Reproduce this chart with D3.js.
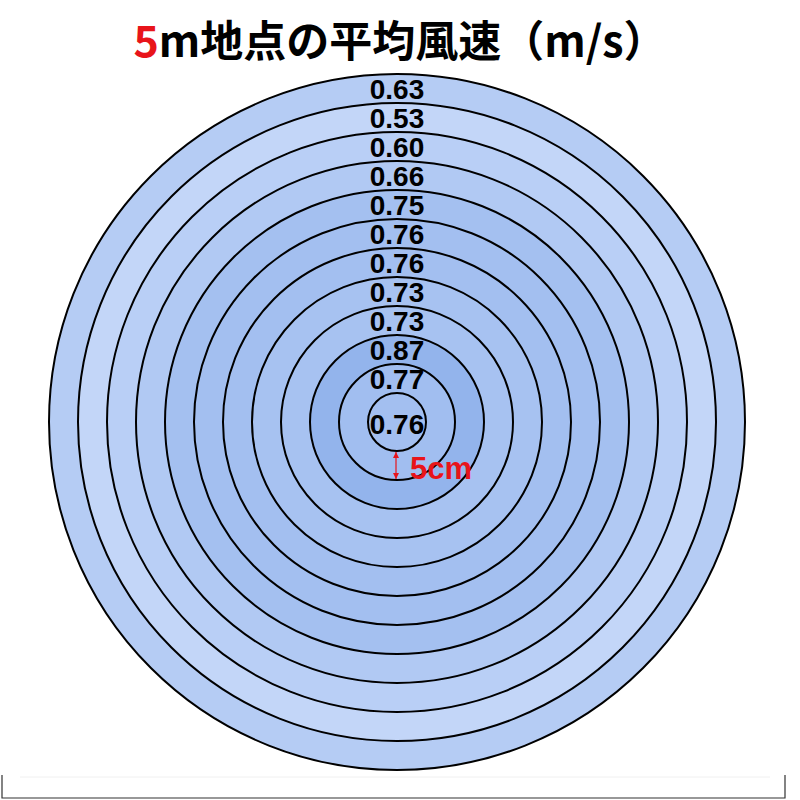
<!DOCTYPE html>
<html>
<head>
<meta charset="utf-8">
<script src="https://cdn.jsdelivr.net/npm/d3@7"></script>
<style>
  body { margin: 0; background: #fff; }
  svg { display: block; }
</style>
</head>
<body>
<svg id="chart" width="800" height="800"></svg>
<script>
// ring values, outermost first (m/s)
const ringValues = [0.63, 0.53, 0.60, 0.66, 0.75, 0.76, 0.76, 0.73, 0.73, 0.87, 0.77, 0.76];
const ringLabels = ringValues.map(v => v.toFixed(2));
const titleParts = [
    { text: "5", color: "#e8141a" },
    { text: "m地点の平均風速（m/s）", color: "#000" }
];
const stepLabel = "5cm";

const svg = d3.select("#chart");
const cx = 397, cy = 422;

// radius of a circle counted from the centre (1 = innermost)
const r = d3.scaleLinear().domain([0, ringValues.length]).range([0, 348]);
const color = d3.scaleLinear()
    .domain([0.53, 0.87])
    .range(["#c3d6f8", "#93b4ec"]);

// title
const title = svg.append("text")
    .attr("x", 400)
    .attr("y", 57)
    .attr("text-anchor", "middle")
    .attr("font-family", "'Noto Sans CJK JP', sans-serif")
    .attr("font-weight", "bold")
    .attr("font-size", 43);
titleParts.forEach(p => {
    title.append("tspan").attr("fill", p.color).text(p.text);
});

const g = svg.append("g").attr("transform", `translate(${cx},${cy})`);

// circles, drawn outer to inner so smaller ones sit on top
const n = ringValues.length;
g.selectAll("circle.ring")
    .data(ringValues)
    .enter().append("circle")
    .attr("class", "ring")
    .attr("r", (d, i) => r(n - i))
    .attr("fill", d => color(d))
    .attr("stroke", "#000")
    .attr("stroke-width", 2);

// labels in the upper part of each ring, the last one in the centre
g.selectAll("text.val")
    .data(ringLabels)
    .enter().append("text")
    .attr("class", "val")
    .attr("x", 0)
    .attr("y", (d, i) => i === n - 1 ? 2 : -(r(n - i) + r(n - i - 1)) / 2)
    .attr("dy", "0.36em")
    .attr("text-anchor", "middle")
    .attr("font-family", "'Liberation Sans', Arial, sans-serif")
    .attr("font-weight", "bold")
    .attr("font-size", 28)
    .attr("fill", "#000")
    .text(d => d);

// 5cm marker between the two innermost circles
const defs = svg.append("defs");
["start", "end"].forEach(k => {
    defs.append("marker")
        .attr("id", "arr-" + k)
        .attr("viewBox", "0 0 10 10")
        .attr("refX", 10).attr("refY", 5)
        .attr("markerWidth", 5).attr("markerHeight", 5)
        .attr("orient", k === "start" ? "auto-start-reverse" : "auto")
        .append("path")
        .attr("d", "M0,0L10,5L0,10Z")
        .attr("fill", "#e8141a");
});
g.append("line")
    .attr("x1", -1).attr("x2", -1)
    .attr("y1", r(1) + 1).attr("y2", r(2) - 1)
    .attr("stroke", "#e8141a")
    .attr("stroke-width", 1.2)
    .attr("marker-start", "url(#arr-start)")
    .attr("marker-end", "url(#arr-end)");
g.append("text")
    .attr("x", 13)
    .attr("y", 57)
    .attr("font-family", "'Liberation Sans', Arial, sans-serif")
    .attr("font-weight", "bold")
    .attr("font-size", 31)
    .attr("fill", "#e8141a")
    .text(stepLabel);

// bottom frame
svg.append("path")
    .attr("d", "M2,775V798H785V775")
    .attr("fill", "none")
    .attr("stroke", "#333")
    .attr("stroke-width", 1.2);
svg.append("line")
    .attr("x1", 20).attr("x2", 770)
    .attr("y1", 777).attr("y2", 777)
    .attr("stroke", "#f0f0f0")
    .attr("stroke-width", 1);
</script>
</body>
</html>
